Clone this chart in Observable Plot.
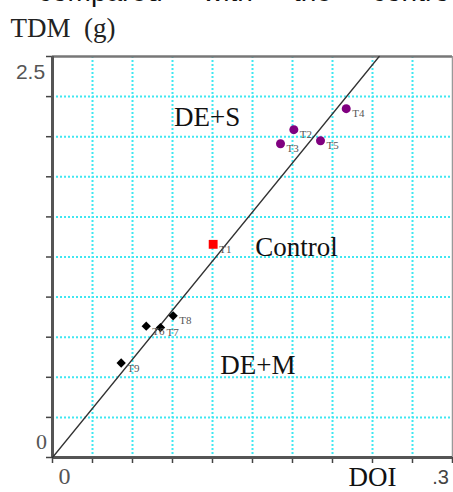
<!DOCTYPE html>
<html>
<head>
<meta charset="utf-8">
<script src="https://cdn.jsdelivr.net/npm/d3@7"></script>
<script src="https://cdn.jsdelivr.net/npm/@observablehq/plot@0.6"></script>
<style>
  html, body { margin: 0; padding: 0; background: #fff; }
  #wrap { position: relative; width: 453px; height: 492px; overflow: hidden; }
  #wrap svg { position: absolute; left: 0; top: 0; }
  .top-word { position: absolute; top: -24px; font: 28px "Liberation Sans", Arial, sans-serif; color: #111; white-space: nowrap; }
</style>
</head>
<body>
<div id="wrap"></div>
<script>
// ---- data ----
const purpleNames = ["T2", "T3", "T4", "T5"];
const purpleX = [0.181, 0.171, 0.2203, 0.201];
const purpleY = [2.044, 1.956, 2.175, 1.975];

const controlNames = ["T1"];
const controlX = [0.1205];
const controlY = [1.329];

const blackNames = ["T6", "T7", "T8", "T9"];
const blackX = [0.0703, 0.081, 0.0905, 0.0515];
const blackY = [0.819, 0.81, 0.883, 0.589];

const lineX = [0, 0.245];
const lineY = [0, 2.5];

const gridXValues = [0.03, 0.06, 0.09, 0.12, 0.15, 0.18, 0.21, 0.24, 0.27];
const gridYValues = [0.25, 0.5, 0.75, 1.0, 1.25, 1.5, 1.75, 2.0, 2.25];
const xTickValues = [0, 0.03, 0.06, 0.09, 0.12, 0.15, 0.18, 0.21, 0.24, 0.27, 0.3];
const yTickValues = [0, 0.25, 0.5, 0.75, 1.0, 1.25, 1.5, 1.75, 2.0, 2.25, 2.5];

const xTickLabels = ["0", ".3"];
const yTickLabels = ["0", "2.5"];

const regionLabels = ["DE+S", "Control", "DE+M"];
const regionX = [0.116, 0.183, 0.154];
const regionY = [2.12, 1.31, 0.575];

const topWords = ["compared", "with", "the", "contro"];
const topWordLeft = [38, 203, 293, 372];

// ---- build tables ----
const purple = purpleNames.map((n, i) => ({name: n, x: purpleX[i], y: purpleY[i]}));
const control = controlNames.map((n, i) => ({name: n, x: controlX[i], y: controlY[i]}));
const black = blackNames.map((n, i) => ({name: n, x: blackX[i], y: blackY[i]}));
const allPts = [...purple, ...control, ...black];
const diag = lineX.map((x, i) => ({x, y: lineY[i]}));
const regions = regionLabels.map((t, i) => ({t, x: regionX[i], y: regionY[i]}));

const serif = "'Liberation Serif', 'Times New Roman', serif";
const sans = "'Liberation Sans', Arial, sans-serif";
const grid = "#3ee8f2";

const chart = Plot.plot({
  width: 453,
  height: 492,
  marginLeft: 52,
  marginRight: 1,
  marginTop: 56,
  marginBottom: 35,
  x: {type: "linear", domain: [0, 0.3], axis: null, label: null},
  y: {type: "linear", domain: [0, 2.5], axis: null, label: null},
  style: {background: "transparent", overflow: "visible"},
  marks: [
    // grid
    Plot.ruleX(gridXValues, {stroke: grid, strokeWidth: 2, strokeDasharray: "2,2"}),
    Plot.ruleY(gridYValues, {stroke: grid, strokeWidth: 2, strokeDasharray: "2,2"}),
    // ticks
    Plot.axisX({ticks: xTickValues, tickSize: 6, tickFormat: () => "", label: null, stroke: "#444", strokeWidth: 1.5}),
    Plot.axisY({ticks: yTickValues, tickSize: 6, tickFormat: () => "", label: null, stroke: "#444", strokeWidth: 1.5}),
    // frame
    Plot.ruleY([2.5], {stroke: "#777", strokeWidth: 2.5}),
    Plot.ruleX([0.3], {stroke: "#999", strokeWidth: 1.5}),
    Plot.ruleX([0], {stroke: "#555", strokeWidth: 3}),
    Plot.ruleY([0], {stroke: "#555", strokeWidth: 3}),
    // diagonal
    Plot.line(diag, {x: "x", y: "y", stroke: "#333", strokeWidth: 1.3}),
    // points
    Plot.dot(purple, {x: "x", y: "y", r: 4.5, fill: "#800080", stroke: "none"}),
    Plot.dot(control, {x: "x", y: "y", symbol: "square", r: 5, fill: "red", stroke: "none"}),
    Plot.dot(black, {x: "x", y: "y", symbol: "diamond2", r: 4.2, fill: "#000", stroke: "none"}),
    Plot.text(allPts, {x: "x", y: "y", text: "name", dx: 6, dy: 5, textAnchor: "start",
      fontFamily: serif, fontSize: 11, fill: "#555"}),
    // region labels
    Plot.text(regions, {x: "x", y: "y", text: "t", fontFamily: serif, fontSize: 27, fill: "#111"}),
    // tick labels
    Plot.text([xTickLabels[0]], {frameAnchor: "bottom-left", lineAnchor: "middle", textAnchor: "middle", dx: 12, dy: 19, fontFamily: serif, fontSize: 24, fill: "#555"}),
    Plot.text([xTickLabels[1]], {frameAnchor: "bottom-right", lineAnchor: "middle", textAnchor: "middle", dx: -12, dy: 20, fontFamily: sans, fontSize: 20, fill: "#444"}),
    Plot.text([yTickLabels[0]], {frameAnchor: "bottom-left", lineAnchor: "middle", textAnchor: "middle", dx: -11, dy: -16, fontFamily: serif, fontSize: 22, fill: "#555"}),
    Plot.text([yTickLabels[1]], {frameAnchor: "top-left", lineAnchor: "middle", textAnchor: "middle", dx: -22, dy: 16, fontFamily: sans, fontSize: 21, fill: "#555"}),
    // axis titles
    Plot.text(["DOI"], {frameAnchor: "bottom", lineAnchor: "middle", textAnchor: "middle", dx: 120, dy: 20, fontFamily: serif, fontSize: 27, fill: "#111"}),
    Plot.text(["TDM  (g)"], {frameAnchor: "top-left", lineAnchor: "middle", textAnchor: "start", dx: -42, dy: -28, fontFamily: serif, fontSize: 27, fill: "#222"})
  ]
});

const wrap = document.getElementById("wrap");
wrap.appendChild(chart);
topWords.forEach((w, i) => {
  const s = document.createElement("div");
  s.className = "top-word";
  s.style.left = topWordLeft[i] + "px";
  s.textContent = w;
  wrap.appendChild(s);
});
</script>
</body>
</html>
